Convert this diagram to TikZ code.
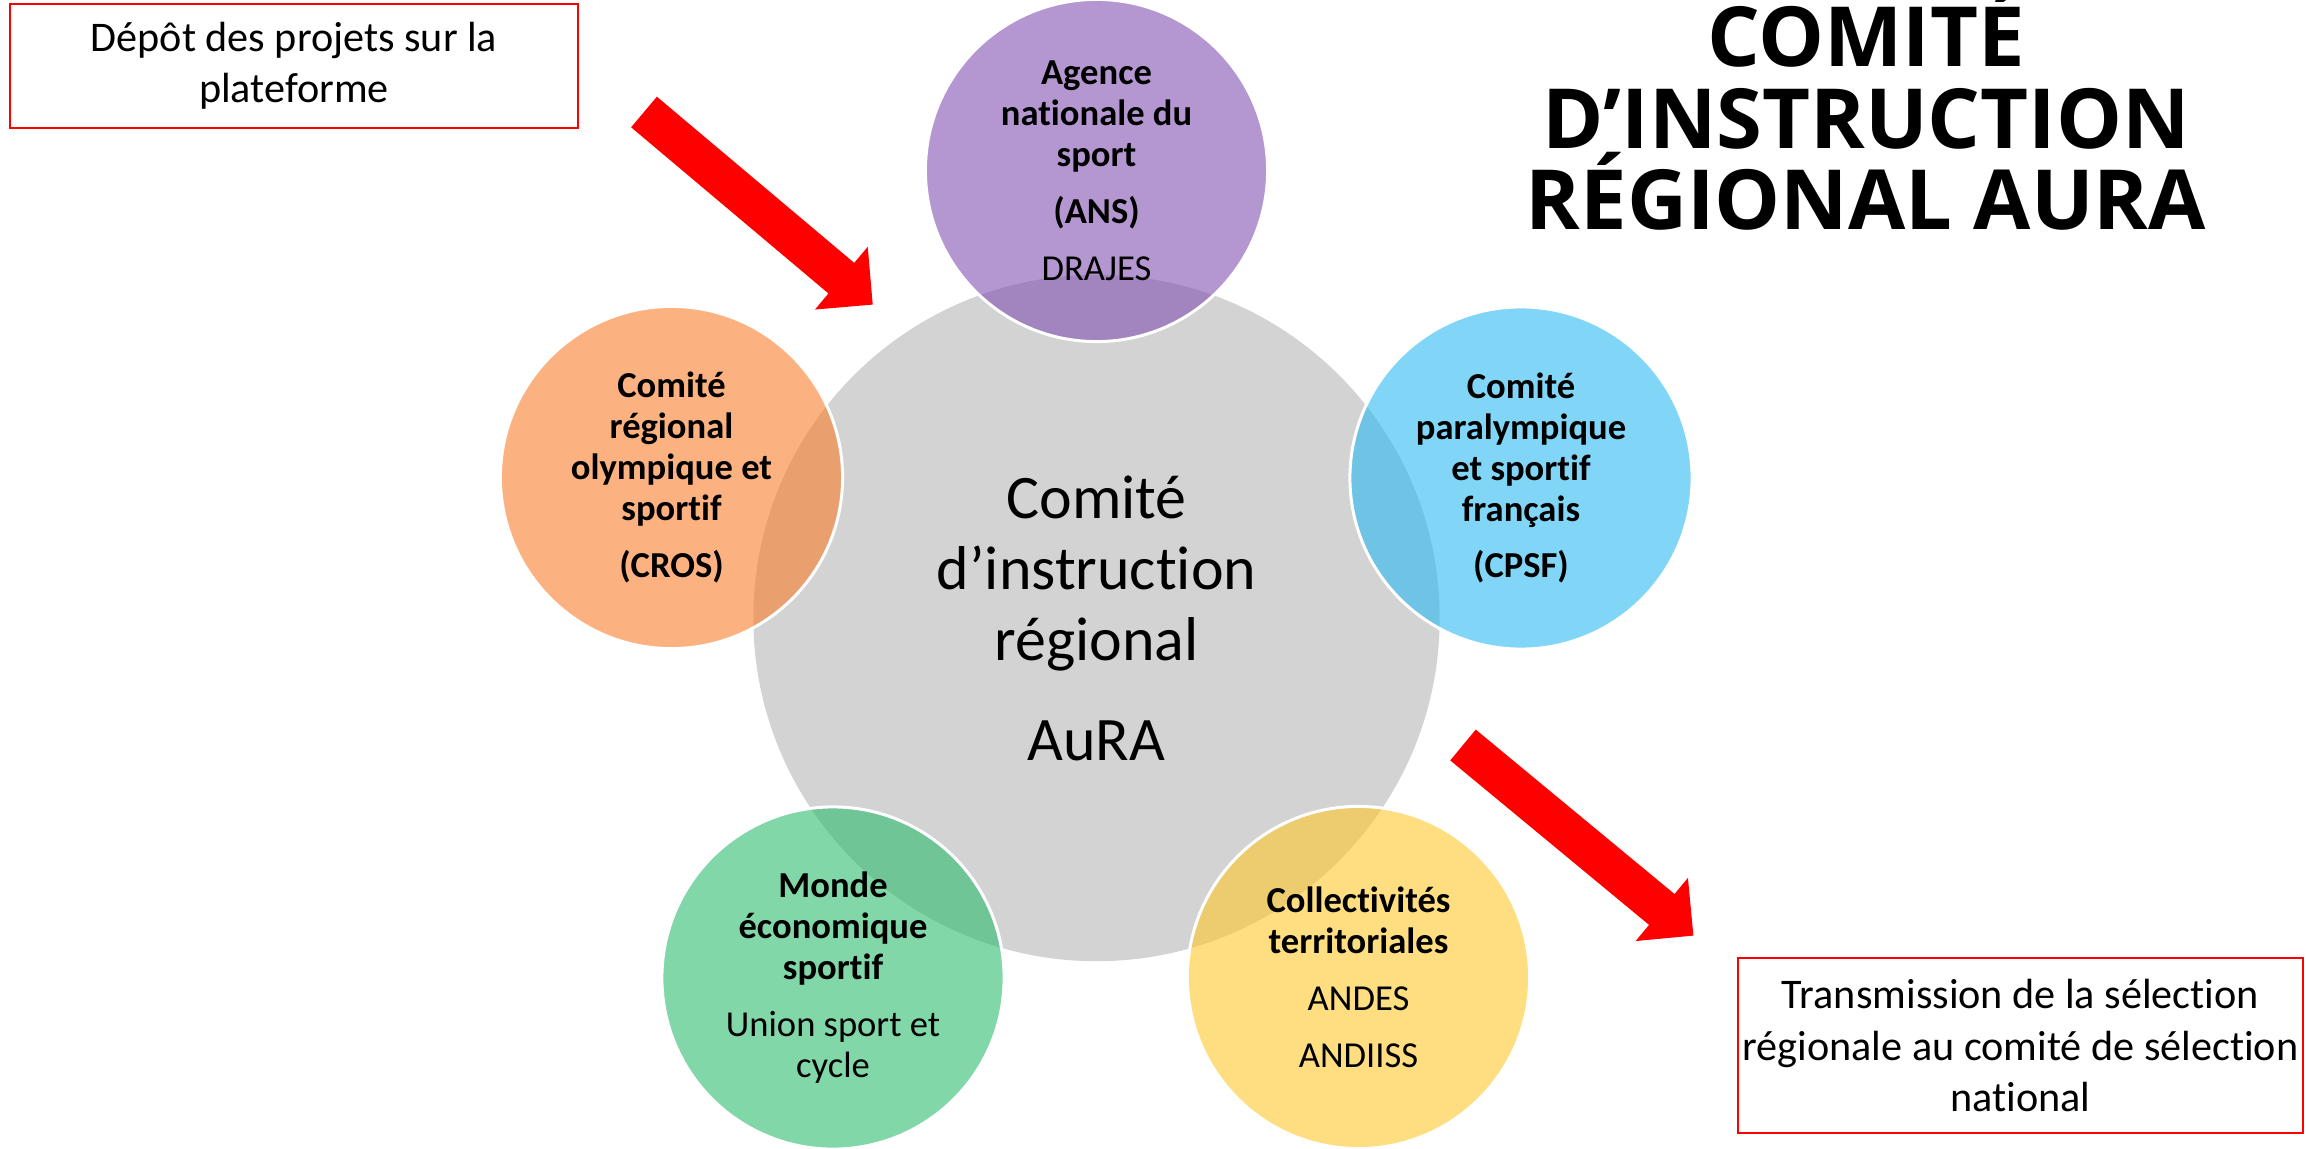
\documentclass[tikz,border=0pt]{standalone}
\usepackage{fontspec}
\setmainfont{Carlito}[Ligatures=NoCommon]
\newfontfamily\titlefont{Open Sans}

\definecolor{hubgray}{RGB}{211,211,211}
\definecolor{ansviolet}{RGB}{130,82,177}
\definecolor{crosorange}{RGB}{250,127,43}
\definecolor{cpsfblue}{RGB}{45,187,242}
\definecolor{ecogreen}{RGB}{45,188,110}
\definecolor{colyellow}{RGB}{253,200,43}

\begin{document}
\begin{tikzpicture}[x=0.01cm,y=-0.01cm]
\tikzstyle{hub}=[circle,fill=hubgray,minimum size=6.86cm,inner sep=0pt,align=center,font=\fontsize{17.6pt}{20.2pt}\selectfont]
\tikzstyle{member}=[circle,draw=white,line width=0.03cm,fill opacity=0.6,text opacity=1,minimum size=3.42cm,inner sep=0pt,align=center,font=\fontsize{10.4pt}{11.66pt}\selectfont]
\tikzstyle{redbox}=[draw=red,line width=0.025cm,inner sep=0pt,align=center,font=\fontsize{12pt}{14.6pt}\selectfont]
\tikzstyle{bigarrow}=[fill=red]
\useasboundingbox (0,0) rectangle (2306,1148);
\node[hub] (hub) at (1096.5,618) {Comité\\d’instruction\\régional\\[8.25pt]AuRA};
\node[member,fill=ansviolet] (ans) at (1096.5,170.5) {\textbf{Agence}\\\textbf{nationale du}\\\textbf{sport}\\[4.5pt]\textbf{(ANS)}\\[4.5pt]DRAJES};
\node[member,fill=crosorange] (cros) at (671.5,477.5) {\textbf{Comité}\\\textbf{régional}\\\textbf{olympique et}\\\textbf{sportif}\\[4.5pt]\textbf{(CROS)}};
\node[member,fill=cpsfblue] (cpsf) at (1521,478) {\textbf{Comité}\\\textbf{paralympique}\\\textbf{et sportif}\\\textbf{français}\\[4.5pt]\textbf{(CPSF)}};
\node[member,fill=ecogreen] (eco) at (833,978) {\textbf{Monde}\\\textbf{économique}\\\textbf{sportif}\\[4.5pt]Union sport et\\cycle};
\node[member,fill=colyellow] (coll) at (1358.5,977.5) {\textbf{Collectivités}\\\textbf{territoriales}\\[4.5pt]ANDES\\[4.5pt]ANDIISS};
\node[font=\titlefont\bfseries\fontsize{23.6pt}{23.2pt}\selectfont,align=center,inner sep=0pt] (titre) at (1866,110) {COMITÉ\\D’INSTRUCTION\\RÉGIONAL AURA};
\node[redbox,minimum width=5.68cm,minimum height=1.24cm] (depot) at (294,66) {Dépôt des projets sur la\\plateforme};
\node[redbox,minimum width=5.65cm,minimum height=1.75cm] (envoi) at (2020.5,1045.5) {Transmission de la sélection\\régionale au comité de sélection\\national};
\coordinate (depotTail) at (644,112);
\coordinate (envoiTail) at (1463,745);
\fill[bigarrow,shift={(depotTail)},rotate=-40.1] (0,20) -- (258,20) -- (258,41) -- (299,0) -- (258,-41) -- (258,-20) -- (0,-20) -- cycle;
\fill[bigarrow,shift={(envoiTail)},rotate=-39.6] (0,20) -- (258,20) -- (258,41) -- (299,0) -- (258,-41) -- (258,-20) -- (0,-20) -- cycle;
\end{tikzpicture}
\end{document}
